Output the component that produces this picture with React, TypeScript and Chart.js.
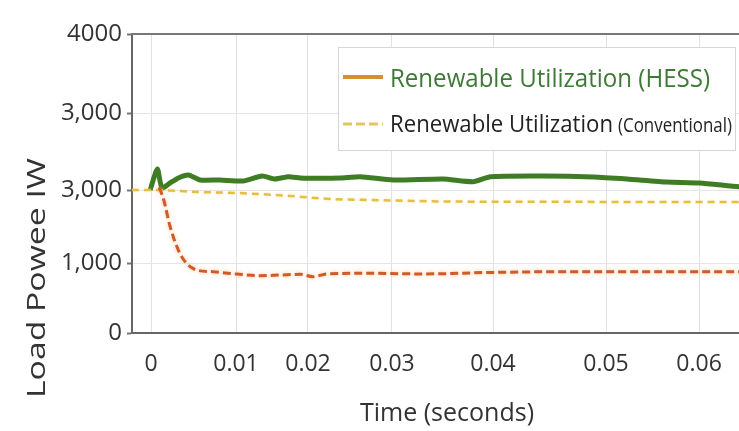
import React, { useEffect, useRef } from 'react';
import { Chart, registerables } from 'chart.js';

Chart.register(...registerables);

// ---- Data (axis units) ----
const xTickValues = [0, 0.00934, 0.01725, 0.02648, 0.03758, 0.05, 0.06022];
const xTickLabels = ['0', '0.01', '0.02', '0.03', '0.04', '0.05', '0.06'];
const yTickValues = [0, 930, 1910, 2940, 4000];
const yTickLabels = ['0', '1,000', '3,000', '3,000', '4000'];

const hessTime = [-0.0001, 0.0007, 0.0012, 0.0021, 0.003, 0.0041, 0.0054, 0.0076, 0.0101, 0.0122, 0.0136, 0.0151, 0.0164, 0.0185, 0.0208, 0.023, 0.0266, 0.0321, 0.0354, 0.0373, 0.0431, 0.0486, 0.0523, 0.0567, 0.0603, 0.0646, 0.067];
const hessPower = [1913, 2194, 1940, 2007, 2074, 2114, 2047, 2047, 2033, 2100, 2060, 2090, 2075, 2070, 2074, 2091, 2047, 2060, 2024, 2091, 2100, 2087, 2060, 2020, 2007, 1957, 1945];

const convTime = [-0.0021, 0.0001, 0.0054, 0.0095, 0.0153, 0.0197, 0.0241, 0.0329, 0.045, 0.055, 0.0669];
const convPower = [1913, 1913, 1886, 1873, 1833, 1793, 1779, 1759, 1755, 1753, 1753];

const loadTime = [0.0009, 0.0014, 0.0021, 0.003, 0.0039, 0.005, 0.0068, 0.0094, 0.012, 0.0142, 0.0164, 0.0178, 0.0193, 0.0241, 0.03, 0.0373, 0.045, 0.055, 0.0669];
const loadPower = [1949, 1779, 1422, 1110, 932, 843, 820, 789, 767, 776, 785, 753, 790, 799, 790, 810, 820, 820, 820];

const legendLabels = ['Renewable Utilization (HESS)', 'Renewable Utilization', '(Conventional)'];
const xTitle = 'Time (seconds)';
const yTitle = 'Load Powee IW';

const FONT = '"Open Sans", "Noto Sans", sans-serif';

const pts = (t: number[], v: number[]) => t.map((x, i) => ({ x, y: v[i] }));

const decorPlugin = {
  id: 'decor',
  beforeDatasetDraw(chart: any, args: any) {
    const ctx = chart.ctx;
    if (args.index === 0) {
      ctx.save();
      ctx.shadowColor = 'rgba(255,150,60,0.55)';
      ctx.shadowBlur = 4;
    } else if (args.index === 1) {
      ctx.save();
      ctx.shadowColor = 'rgba(255,220,110,0.5)';
      ctx.shadowBlur = 3;
    }
  },
  afterDatasetDraw(chart: any, args: any) {
    if (args.index === 0 || args.index === 1) chart.ctx.restore();
  },
  afterDraw(chart: any) {
    const ctx = chart.ctx;
    const { left, right, top } = chart.chartArea;
    ctx.save();
    // top frame line
    ctx.strokeStyle = '#777';
    ctx.lineWidth = 2;
    ctx.beginPath();
    ctx.moveTo(left - 1, top);
    ctx.lineTo(right, top);
    ctx.stroke();

    // legend box
    ctx.fillStyle = 'rgba(255,255,255,0.96)';
    ctx.fillRect(338, 47, 397, 103);
    ctx.strokeStyle = '#d6d6d6';
    ctx.lineWidth = 1;
    ctx.strokeRect(338.5, 47.5, 397, 103);

    // legend entry 1
    ctx.strokeStyle = '#d4922f';
    ctx.lineWidth = 4;
    ctx.setLineDash([]);
    ctx.beginPath();
    ctx.moveTo(343, 77);
    ctx.lineTo(383, 77);
    ctx.stroke();
    ctx.fillStyle = '#3d7a35';
    ctx.font = `25px ${FONT}`;
    ctx.textAlign = 'left';
    ctx.textBaseline = 'alphabetic';
    ctx.fillText(legendLabels[0], 390, 87, 320);

    // legend entry 2
    ctx.strokeStyle = '#e3c75e';
    ctx.lineWidth = 3;
    ctx.setLineDash([9, 4]);
    ctx.beginPath();
    ctx.moveTo(343, 124);
    ctx.lineTo(383, 124);
    ctx.stroke();
    ctx.setLineDash([]);
    ctx.fillStyle = '#222';
    ctx.font = `23px ${FONT}`;
    ctx.fillText(legendLabels[1], 390, 132, 223);
    ctx.font = `20px ${FONT}`;
    ctx.fillText(legendLabels[2], 618, 132, 114);

    // axis titles
    ctx.fillStyle = '#333';
    ctx.font = `25px ${FONT}`;
    ctx.textAlign = 'center';
    ctx.fillText(xTitle, 447, 421, 182);
    ctx.translate(45, 278);
    ctx.rotate(-Math.PI / 2);
    const w = ctx.measureText(yTitle).width;
    ctx.scale(240 / w, 1);
    ctx.fillText(yTitle, 0, 0);
    ctx.restore();
  },
};

export default function App() {
  const ref = useRef<HTMLCanvasElement>(null);
  useEffect(() => {
    const canvas = ref.current;
    if (!canvas) return;
    const chart = new Chart(canvas, {
      type: 'line',
      data: {
        datasets: [
          {
            label: 'Load Power',
            data: pts(loadTime, loadPower),
            borderColor: '#cf5a2a',
            borderWidth: 3,
            borderDash: [8, 4],
            pointRadius: 0,
            cubicInterpolationMode: 'monotone',
          },
          {
            label: 'Renewable Utilization (Conventional)',
            data: pts(convTime, convPower),
            borderColor: '#e4bf45',
            borderWidth: 2.5,
            borderDash: [7, 5],
            pointRadius: 0,
            cubicInterpolationMode: 'monotone',
          },
          {
            label: 'Renewable Utilization (HESS)',
            data: pts(hessTime, hessPower),
            borderColor: '#3f7d24',
            borderWidth: 5,
            pointRadius: 0,
            tension: 0.2,
          },
        ],
      },
      options: {
        responsive: false,
        devicePixelRatio: 1,
        animation: false,
        events: [],
        layout: { padding: { top: 34, left: 0, right: 0, bottom: 0 } },
        plugins: { legend: { display: false }, tooltip: { enabled: false } },
        scales: {
          x: {
            type: 'linear',
            min: -0.00209,
            max: 0.06692,
            afterBuildTicks: (s: any) => {
              s.ticks = xTickValues.map((v) => ({ value: v }));
            },
            afterFit: (s: any) => {
              s.height = 98;
            },
            ticks: {
              callback: (_v: any, i: number) => xTickLabels[i],
              font: { size: 23, family: FONT },
              color: '#333',
              padding: 18,
              maxRotation: 0,
              autoSkip: false,
            },
            grid: { color: '#e2e2e2', lineWidth: 1, drawTicks: false },
            border: { color: '#666', width: 2 },
          },
          y: {
            type: 'linear',
            min: 0,
            max: 4000,
            afterBuildTicks: (s: any) => {
              s.ticks = yTickValues.map((v) => ({ value: v }));
            },
            afterFit: (s: any) => {
              s.width = 132;
            },
            ticks: {
              callback: (_v: any, i: number) => yTickLabels[i],
              font: { size: 24, family: FONT },
              color: '#333',
              padding: 5,
              autoSkip: false,
            },
            grid: { color: '#e6e6e6', lineWidth: 1, tickLength: 5, tickColor: '#777', tickWidth: 2 },
            border: { color: '#666', width: 2 },
          },
        },
      },
      plugins: [decorPlugin],
    } as any);
    return () => chart.destroy();
  }, []);

  return (
    <div
      style={{
        position: 'fixed',
        left: 0,
        top: 0,
        width: 739,
        height: 431,
        overflow: 'hidden',
        background: '#fff',
      }}
    >
      <canvas ref={ref} width={760} height={431} style={{ display: 'block', width: 760, height: 431 }} />
    </div>
  );
}
